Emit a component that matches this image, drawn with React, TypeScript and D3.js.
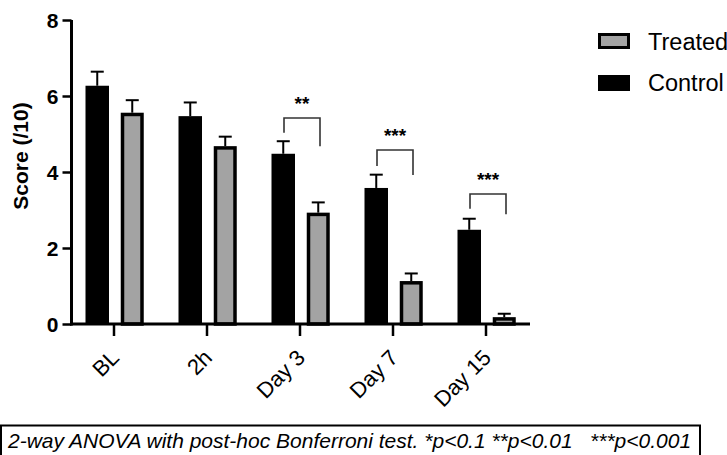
import React, { useEffect, useRef } from "react";
import * as d3 from "d3";

const categories = ["BL", "2h", "Day 3", "Day 7", "Day 15"];
const controlValues = [6.27, 5.47, 4.48, 3.58, 2.48];
const controlErrors = [0.37, 0.36, 0.33, 0.35, 0.29];
const treatedValues = [5.56, 4.68, 2.93, 1.13, 0.18];
const treatedErrors = [0.33, 0.25, 0.27, 0.2, 0.09];
const yTicks = [0, 2, 4, 6, 8];

// significance brackets
const sigCategories = ["Day 3", "Day 7", "Day 15"];
const sigLabels = ["**", "***", "***"];
const sigTop = [5.42, 4.58, 3.42];
const sigLeftEnd = [5.03, 4.16, 3.03];
const sigRightEnd = [4.68, 3.92, 2.89];

const legendLabels = ["Treated", "Control"];
const footnote = "2-way ANOVA with post-hoc Bonferroni test. *p<0.1 **p<0.01   ***p<0.001";

const FONT = "'Liberation Sans', Arial, sans-serif";
const GREY = "#a3a3a3";

export default function App() {
  const ref = useRef<SVGSVGElement>(null);

  useEffect(() => {
    const svg = d3.select(ref.current);
    svg.selectAll("*").remove();

    const x = d3.scaleBand().domain(categories).range([67.5, 532.5]);
    const y = d3.scaleLinear().domain([0, 8]).range([324, 20]);
    const mid = (c: string) => (x(c) as number) + x.bandwidth() / 2;

    // control bars
    svg.append("g")
      .selectAll("rect")
      .data(controlValues)
      .enter()
      .append("rect")
      .attr("x", (d, i) => mid(categories[i]) - 28.5)
      .attr("y", d => y(d))
      .attr("width", 23.5)
      .attr("height", d => y(0) - y(d))
      .attr("fill", "#000");

    // treated bars (grey with thick border)
    svg.append("g")
      .selectAll("rect")
      .data(treatedValues)
      .enter()
      .append("rect")
      .attr("x", (d, i) => mid(categories[i]) + 8.5)
      .attr("y", d => y(d) + 1.75)
      .attr("width", 19.5)
      .attr("height", d => Math.max(0, y(0) - y(d) - 1.75))
      .attr("fill", GREY)
      .attr("stroke", "#000")
      .attr("stroke-width", 3.5);

    // error bars
    const errs = [
      { vals: controlValues, errs: controlErrors, off: -16.75 },
      { vals: treatedValues, errs: treatedErrors, off: 18.25 },
    ];
    errs.forEach(s => {
      const g = svg.append("g").attr("stroke", "#000").attr("stroke-width", 2);
      s.vals.forEach((v, i) => {
        const cx = mid(categories[i]) + s.off;
        g.append("line").attr("x1", cx).attr("x2", cx).attr("y1", y(v)).attr("y2", y(v + s.errs[i]));
        g.append("line").attr("x1", cx - 6.5).attr("x2", cx + 6.5)
          .attr("y1", y(v + s.errs[i])).attr("y2", y(v + s.errs[i]));
      });
    });

    // y axis
    const yAxis = svg.append("g")
      .attr("transform", "translate(71.5,0)")
      .call(d3.axisLeft(y).tickValues(yTicks).tickSize(9).tickSizeOuter(0).tickPadding(4));
    yAxis.attr("font-size", null).attr("font-family", null);
    yAxis.select(".domain").attr("stroke-width", 3).attr("d", `M0,${y(0) + 1.5}V${y(8)}`);
    yAxis.selectAll(".tick line").attr("stroke-width", 2.5);
    yAxis.selectAll(".tick text")
      .attr("dy", "0.36em")
      .style("font-family", FONT).style("font-size", "21px").style("font-weight", "bold").attr("fill", "#000");

    // x axis
    const xAxis = svg.append("g")
      .attr("transform", `translate(0,${y(0)})`)
      .call(d3.axisBottom(x).tickSize(12).tickSizeOuter(0));
    xAxis.attr("font-size", null).attr("font-family", null);
    xAxis.select(".domain").attr("stroke-width", 3).attr("d", "M70,0H530");
    xAxis.selectAll(".tick line").attr("stroke-width", 2.5);
    xAxis.selectAll(".tick text")
      .attr("x", 0).attr("y", 0).attr("dy", 0)
      .attr("transform", "translate(6.5,35) rotate(-45)")
      .attr("text-anchor", "end")
      .style("font-family", FONT).style("font-size", "22px").attr("fill", "#000");

    // y axis title
    svg.append("text")
      .attr("transform", "translate(28,156) rotate(-90)")
      .attr("text-anchor", "middle")
      .style("font-family", FONT).style("font-size", "21px").style("font-weight", "bold")
      .text("Score (/10)");

    // brackets
    sigCategories.forEach((c, i) => {
      const x0 = mid(c) - 16, x1 = mid(c) + 20;
      svg.append("path")
        .attr("d", `M${x0},${y(sigLeftEnd[i])}V${y(sigTop[i])}H${x1}V${y(sigRightEnd[i])}`)
        .attr("fill", "none").attr("stroke", "#333").attr("stroke-width", 1.6);
      svg.append("text")
        .attr("x", (x0 + x1) / 2).attr("y", y(sigTop[i]) - 8)
        .attr("text-anchor", "middle")
        .style("font-family", FONT).style("font-size", "19px").style("font-weight", "bold")
        .text(sigLabels[i]);
    });

    // legend
    const lg = svg.append("g").style("font-family", FONT).style("font-size", "23.5px");
    lg.append("rect").attr("x", 599.5).attr("y", 34.5).attr("width", 29).attr("height", 13)
      .attr("fill", GREY).attr("stroke", "#000").attr("stroke-width", 3);
    lg.append("rect").attr("x", 598).attr("y", 75).attr("width", 32).attr("height", 16).attr("fill", "#000");
    legendLabels.forEach((l, i) => {
      lg.append("text").attr("x", 648).attr("y", 49.5 + i * 41).text(l);
    });

    // footnote box
    svg.append("rect").attr("x", 1).attr("y", 425.5).attr("width", 699).attr("height", 40)
      .attr("fill", "none").attr("stroke", "#000").attr("stroke-width", 2);
    svg.append("text").attr("x", 8).attr("y", 448)
      .style("font-family", FONT).style("font-size", "21px").style("font-style", "italic")
      .style("white-space", "pre")
      .text(footnote);
  }, []);

  return (
    <svg ref={ref} width={727} height={455}
      style={{ position: "absolute", left: 0, top: 0, background: "#fff" }} />
  );
}
